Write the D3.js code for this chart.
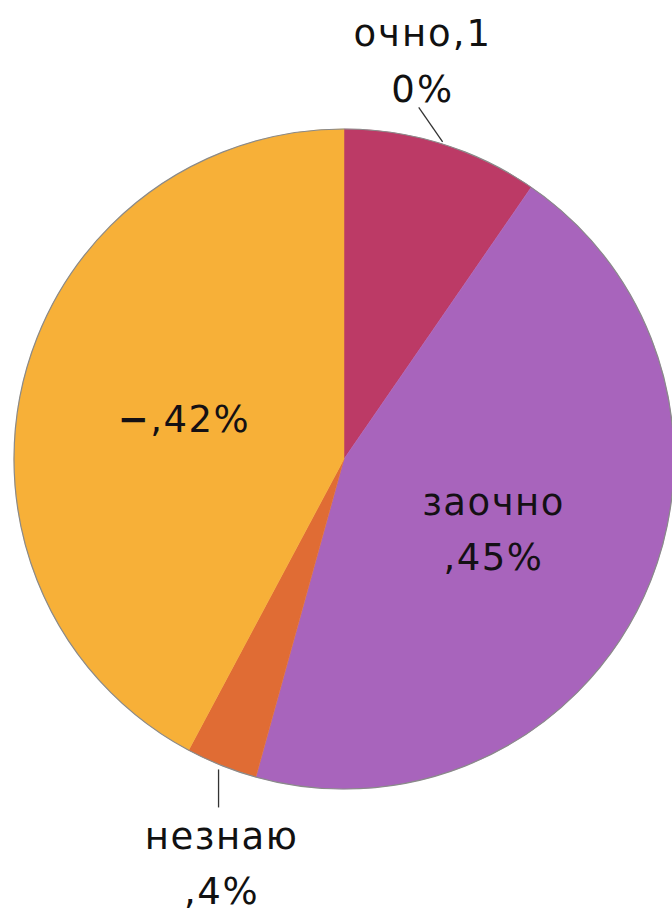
<!DOCTYPE html>
<html>
<head>
<meta charset="utf-8">
<script src="https://cdn.jsdelivr.net/npm/d3@7"></script>
<style>
html,body{margin:0;padding:0;background:#fff;}
svg{display:block;}
text{font-family:"DejaVu Sans",Verdana,sans-serif;}
</style>
</head>
<body>
<svg id="chart" width="672" height="912"></svg>
<script>
const categories = ["очно", "заочно", "незнаю", "−"];
const values = [9.6, 44.7, 3.5, 42.2];
const labelLines = [["очно,1", "0%"], ["заочно", ",45%"], ["незнаю", ",4%"], ["−,42%"]];
const colors = ["#BC3A66", "#A864BC", "#E06C34", "#F7B038"];

const W = 672, H = 912;
const cx = 344, cy = 459, r = 330;
const svg = d3.select("#chart");
const g = svg.append("g").attr("transform", `translate(${cx},${cy})`);

const data = categories.map((c, i) => ({name: c, value: values[i], lines: labelLines[i], color: colors[i]}));
const pie = d3.pie().value(d => d.value).sort(null);
const arcs = pie(data);
const arc = d3.arc().innerRadius(0).outerRadius(r);

g.selectAll("path.slice").data(arcs).join("path")
  .attr("class", "slice")
  .attr("d", arc)
  .attr("fill", d => d.data.color)
  .attr("stroke", d => d.data.color)
  .attr("stroke-width", 0.5);

g.append("circle").attr("r", r).attr("fill", "none").attr("stroke", "#8a8a8a").attr("stroke-width", 1.2);

const fs = 37, lh = 55;
const inner = d3.arc().innerRadius(r * 0.5).outerRadius(r * 0.5);
const mid = d => (d.startAngle + d.endAngle) / 2;
const pt = (a, rad) => [rad * Math.sin(a), -rad * Math.cos(a)];

function addLine(t, l, x, y) {
  const ts = t.append("tspan").attr("x", x).attr("y", y);
  if (l.startsWith("−")) {
    ts.append("tspan").attr("font-weight", "bold").text("−");
    t.append("tspan").text(l.slice(1));
  } else {
    ts.text(l);
  }
}

arcs.forEach((d, i) => {
  const lines = d.data.lines;
  if (i === 1 || i === 3) {
    const [x, y] = inner.centroid(d);
    const t = g.append("text").attr("text-anchor", "middle").attr("font-size", fs)
      .attr("fill", "#141014").attr("letter-spacing", 1.5);
    const y0 = y - (lines.length - 1) * lh / 2 + fs * 0.36;
    lines.forEach((l, k) => addLine(t, l, x, y0 + k * lh));
  } else if (i === 0) {
    const a = mid(d);
    const [x1, y1] = pt(a, r + 2);
    const [x2, y2] = pt(a - 0.03, r + 38);
    g.append("line").attr("x1", x1).attr("y1", y1).attr("x2", x2 - 24).attr("y2", y2 + 3)
      .attr("stroke", "#333").attr("stroke-width", 1.3);
    const t = g.append("text").attr("text-anchor", "middle").attr("font-size", fs)
      .attr("fill", "#111").attr("letter-spacing", 2);
    const bx = x2 - 20, by = y2 - 3;
    lines.forEach((l, k) => addLine(t, l, bx, by - (lines.length - 1 - k) * 56));
  } else {
    const a = mid(d);
    const [x1, y1] = pt(a, r);
    g.append("line").attr("x1", x1 - 3).attr("y1", y1 + 4).attr("x2", x1 - 3).attr("y2", y1 + 42)
      .attr("stroke", "#333").attr("stroke-width", 1.3);
    const t = g.append("text").attr("text-anchor", "middle").attr("font-size", fs)
      .attr("fill", "#111").attr("letter-spacing", 1.5);
    lines.forEach((l, k) => addLine(t, l, x1, y1 + 84 + k * lh));
  }
});
</script>
</body>
</html>
